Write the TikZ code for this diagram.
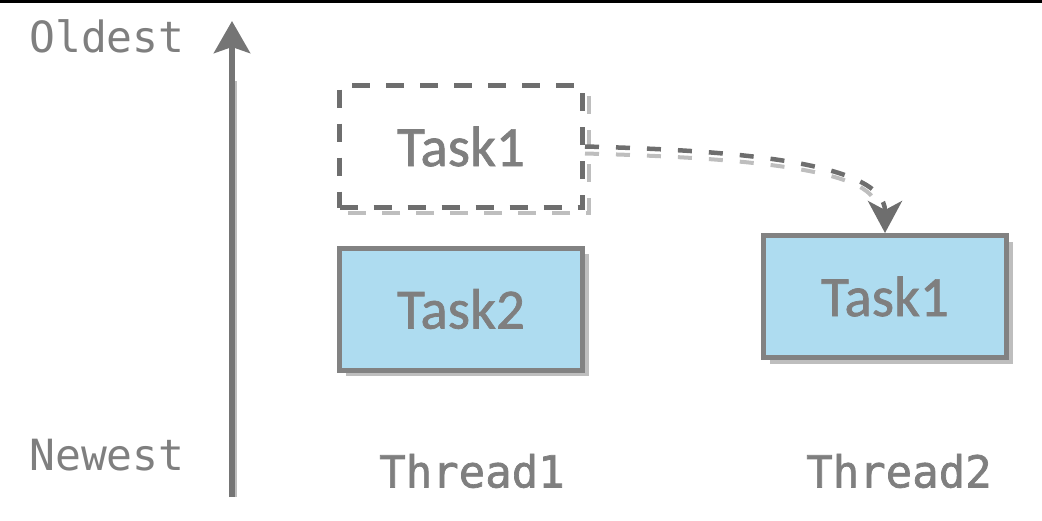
\documentclass[tikz,border=0pt]{standalone}
\usepackage{fontspec}
\setmainfont{Carlito}
\newfontfamily\taskf[UprightFeatures={FakeBold=1.2}]{Carlito}
\newfontfamily\monof{DejaVu Sans Mono}
\newfontfamily\monofb[UprightFeatures={FakeBold=1.6}]{DejaVu Sans Mono}
\usetikzlibrary{arrows.meta,shadows}
\definecolor{txtgray}{HTML}{7F7F7F}
\definecolor{boxline}{HTML}{828282}
\definecolor{dashline}{HTML}{6E6E6E}
\definecolor{shadowgray}{HTML}{BEBEBE}
\definecolor{taskfill}{HTML}{AEDCF0}
\tikzset{
  taskbox/.style={draw=boxline, line width=5pt, fill=taskfill, minimum width=243pt, minimum height=122pt,
    inner sep=0pt, font=\taskf\fontsize{57}{57}\selectfont, text=txtgray,
    drop shadow={shadow xshift=6pt, shadow yshift=-6pt, fill=shadowgray, opacity=1}},
  ghostbox/.style={draw=dashline, line width=5pt, dash pattern=on 18pt off 16pt, minimum width=243pt, minimum height=122pt,
    inner sep=0pt, font=\taskf\fontsize{57}{57}\selectfont, text=txtgray},
  label/.style={font=\monof\fontsize{43}{43}\selectfont, text=txtgray, inner sep=0pt},
  threadlabel/.style={font=\monofb\fontsize{44}{44}\selectfont, text=txtgray, inner sep=0pt},
  dasharrow/.style={draw=dashline, line width=4.5pt, dash pattern=on 14pt off 17pt,
    -{Stealth[length=32pt, width=34pt, inset=9pt]}},
  axisarrow/.style={draw=boxline!90!black, line width=6pt, -{Stealth[length=32pt, width=36pt, inset=6pt]}},
}
\begin{document}
\begin{tikzpicture}[x=1pt,y=-1pt]
\useasboundingbox (0,0) rectangle (1042,520);
\fill[black] (0,0) rectangle (1042,3);

% axis
\coordinate (axbot) at (232,497);
\coordinate (axtop) at (232,21);
\draw[line width=3pt, draw=shadowgray] ([xshift=3pt]axbot) -- ([xshift=3pt,yshift=-60pt]axtop);
\draw[axisarrow] (axbot) -- (axtop);

\node[label] (oldest) at (107,36) {Oldest};
\node[label] (newest) at (107,455) {Newest};
\node[threadlabel] (thread1) at (472,471) {Thread1};
\node[threadlabel] (thread2) at (899,471) {Thread2};

% ghost box shadow (right and bottom only)
\draw[draw=shadowgray, line width=4pt, dash pattern=on 18pt off 16pt] (589,96) -- (589,213) -- (345,213);
\node[ghostbox] (t1old) at (461,146.5) {Task1};

\node[taskbox] (t2) at (461,309) {Task2};
\node[taskbox] (t1new) at (885,296.5) {Task1};

% curved dashed arrow with shadow
\draw[draw=shadowgray, line width=4pt, dash pattern=on 14pt off 17pt]
  ([yshift=-7pt]t1old.east) .. controls (710,157) and (870,165) .. (876,205);
\draw[dasharrow] (t1old.east) .. controls (720,150) and (885,160) .. (t1new.north);
\end{tikzpicture}
\end{document}
